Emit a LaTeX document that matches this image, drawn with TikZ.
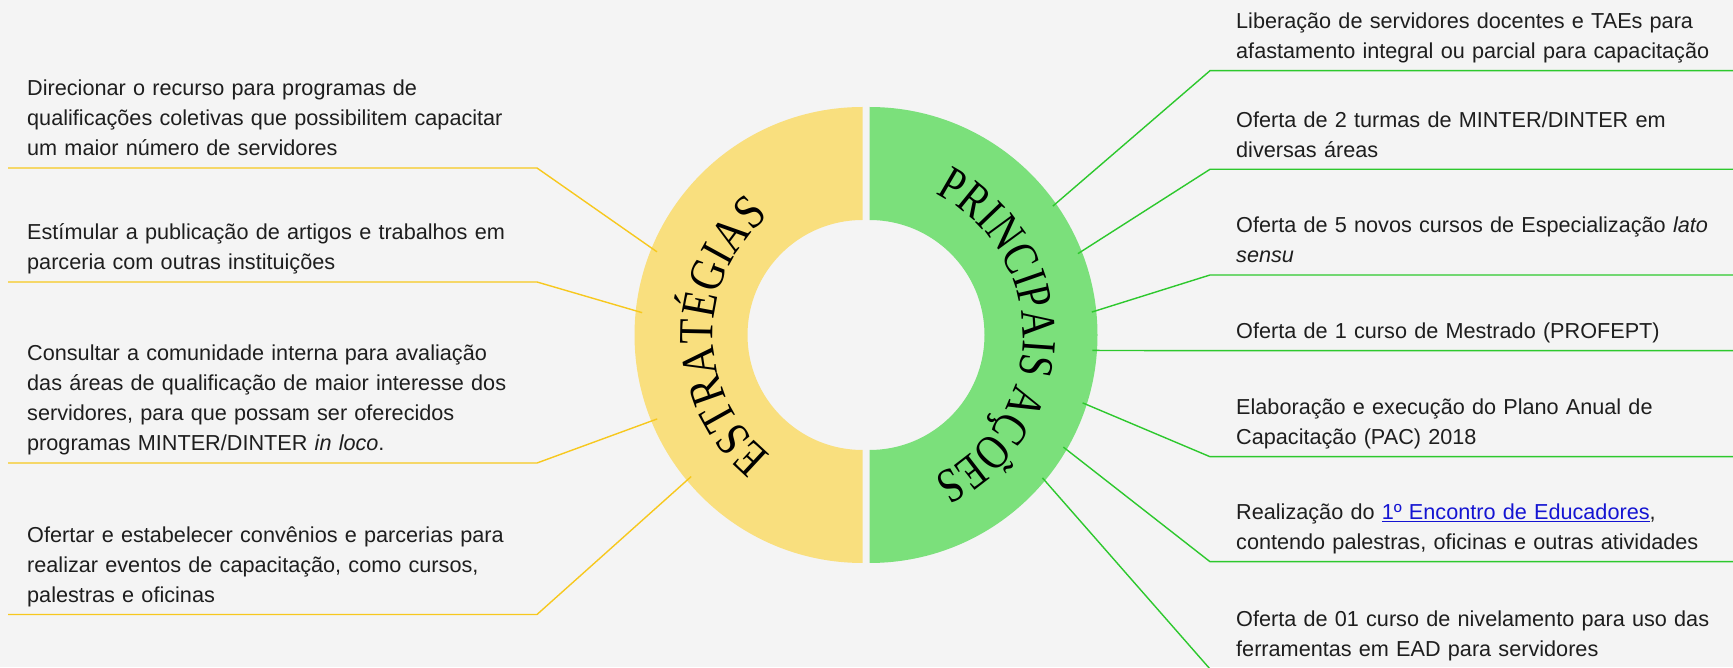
\documentclass[tikz,border=0pt]{standalone}
\usepackage{fontspec}
\setmainfont{Liberation Sans}
\newfontfamily\ringfont[FakeStretch=0.83]{Liberation Serif}
\newfontfamily\ringfontb[FakeStretch=0.80]{Liberation Serif}
\usetikzlibrary{decorations.text}

\definecolor{bgpaper}{RGB}{244,244,244}
\definecolor{estfill}{RGB}{249,223,126}
\definecolor{acofill}{RGB}{123,224,123}
\definecolor{estline}{RGB}{247,200,30}
\definecolor{acoline}{RGB}{45,200,45}
\definecolor{inktext}{RGB}{30,30,30}
\definecolor{linkblue}{RGB}{20,20,210}

\tikzset{
  item/.style={anchor=base west, inner sep=0pt, text width=520pt, align=left,
    text=inktext, font=\fontsize{21.65}{30}\selectfont},
  estlink/.style={estline, line width=1.4pt},
  acolink/.style={acoline, line width=1.4pt},
  ringtext/.style={decorate, decoration={text along path, text align=center, text={#1}}}
}

\begin{document}
\begin{tikzpicture}[x=1pt,y=1pt]
  \clip (0,0) rectangle (1733,667);
  \fill[bgpaper] (0,0) rectangle (1733,667);
  \coordinate (c) at (866,332);

  % the two halves of the ring
  \fill[estfill] (862.5,560) arc[start angle=90,end angle=270,radius=228]
    -- (862.5,217) arc[start angle=270,end angle=90,radius=115] -- cycle;
  \fill[acofill] (869.5,560) arc[start angle=90,end angle=-90,radius=228]
    -- (869.5,217) arc[start angle=-90,end angle=90,radius=115] -- cycle;

  % titles bent along the ring
  \begin{scope}[shift={(c)}]
    \path[ringtext={|\fontsize{49}{49}\ringfont|ESTRATÉGIAS}]
      (238.5:153) arc[start angle=238.5,end angle=122.5,radius=153];
    \path[ringtext={|\fontsize{49}{49}\ringfontb|PRINCIPAIS AÇÕES}]
      (73:157) arc[start angle=73,end angle=-74,radius=157];
  \end{scope}

  % strategies, left
  \node[item] (est1) at (27,571) {Direcionar o recurso para programas de\\qualificações coletivas que possibilitem capacitar\\um maior número de servidores};
  \node[item] (est2) at (27,427) {Estímular a publicação de artigos e trabalhos em\\parceria com outras instituições};
  \node[item] (est3) at (27,306) {Consultar a comunidade interna para avaliação\\das áreas de qualificação de maior interesse dos\\servidores, para que possam ser oferecidos\\programas MINTER/DINTER \textit{in loco}.};
  \node[item] (est4) at (27,124.5) {Ofertar e estabelecer convênios e parcerias para\\realizar eventos de capacitação, como cursos,\\palestras e oficinas};

  \foreach \i/\a/\y in {1/158.3/499, 2/174.3/385, 3/201.9/204, 4/219/52.5} {
    \path ([shift={(c)}]\a:225) coordinate (ee\i);
    \coordinate (ke\i) at (537,\y);
    \coordinate (le\i) at (8,\y);
    \draw[estlink] (ee\i) -- (ke\i) -- (le\i);
  }

  % actions, right
  \node[item] (aco1) at (1236,638.3) {Liberação de servidores docentes e TAEs para\\afastamento integral ou parcial para capacitação};
  \node[item] (aco2) at (1236,539.7) {Oferta de 2 turmas de MINTER/DINTER em\\diversas áreas};
  \node[item] (aco3) at (1236,434) {Oferta de 5 novos cursos de Especialização \textit{lato}\\\textit{sensu}};
  \node[item] (aco4) at (1236,328.3) {Oferta de 1 curso de Mestrado (PROFEPT)};
  \node[item] (aco5) at (1236,252.3) {Elaboração e execução do Plano Anual de\\Capacitação (PAC) 2018};
  \node[item] (aco6) at (1236,147.3) {Realização do {\color{linkblue}\underline{1º Encontro de Educadores}},\\contendo palestras, oficinas e outras atividades};
  \node[item] (aco7) at (1236,41) {Oferta de 01 curso de nivelamento para uso das\\ferramentas em EAD para servidores};

  \foreach \i/\a/\y in {1/34.6/596.3, 2/21/497.7, 3/5.8/392, 4/-3.9/316.3,
                        5/-17.4/210.3, 6/-29.6/105.3, 7/-39/-2} {
    \path ([shift={(c)}]\a:227) coordinate (ea\i);
    \coordinate (ka\i) at (1210,\y);
    \coordinate (la\i) at (1733,\y);
    \draw[acolink] (ea\i) -- (ka\i) -- (la\i);
  }
\end{tikzpicture}
\end{document}
